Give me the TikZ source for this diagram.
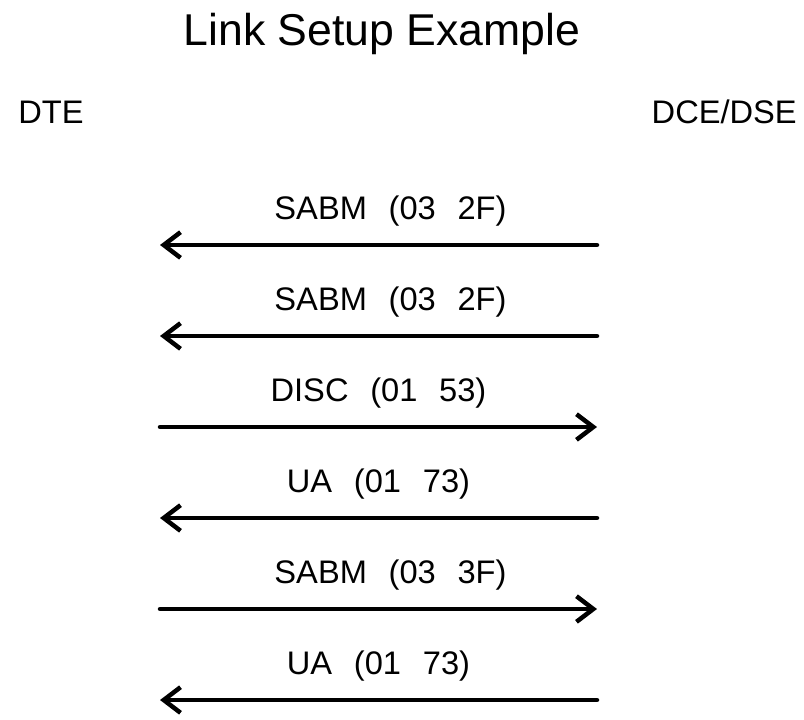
\documentclass[tikz,border=0pt]{standalone}
\usepackage{fontspec}
\setmainfont{Liberation Sans}
\newfontfamily\msgfont[WordSpace=2.4]{Liberation Sans}
\usetikzlibrary{arrows.meta,positioning}

\begin{document}
\begin{tikzpicture}[x=0.025cm,y=-0.025cm,
  >={Straight Barb[length=4.2mm,width=6.4mm]}]
  \tikzset{
  msg/.style = {inner sep=0pt, anchor=base, midway, yshift=0.65cm,
    font=\msgfont\fontsize{23.2}{26}\selectfont},
  side/.style = {inner sep=0pt,
    font=\fontsize{23.2}{26}\selectfont},
  link/.style = {line width=3.2pt, line cap=round}% message arrow
}
\useasboundingbox (0,0) rectangle (804,719);

\node [inner sep=0pt, anchor=base, font=\fontsize{31.7}{34}\selectfont]
  (title) at (382,45) {Link Setup Example};
\node [side, anchor=base west] (dte) at (18,123) {DTE};
\node [side, anchor=base east] (dce) at (797,123) {DCE/DSE};

% ends of the message lines
\foreach \row/\ypos in {1/245,2/336,3/427,4/518,5/609,6/700}{
  \coordinate (dte\row) at (160,\ypos);
  \coordinate (dce\row) at (597,\ypos);
}

\draw [link,->] (dce1) -- (dte1) node [msg, xshift=0.3cm] {SABM (03 2F)};
\draw [link,->] (dce2) -- (dte2) node [msg, xshift=0.3cm] {SABM (03 2F)};
\draw [link,->] (dte3) -- (dce3) node [msg] {DISC (01 53)};
\draw [link,->] (dce4) -- (dte4) node [msg] {UA (01 73)};
\draw [link,->] (dte5) -- (dce5) node [msg, xshift=0.3cm] {SABM (03 3F)};
\draw [link,->] (dce6) -- (dte6) node [msg] {UA (01 73)};
\end{tikzpicture}
\end{document}
